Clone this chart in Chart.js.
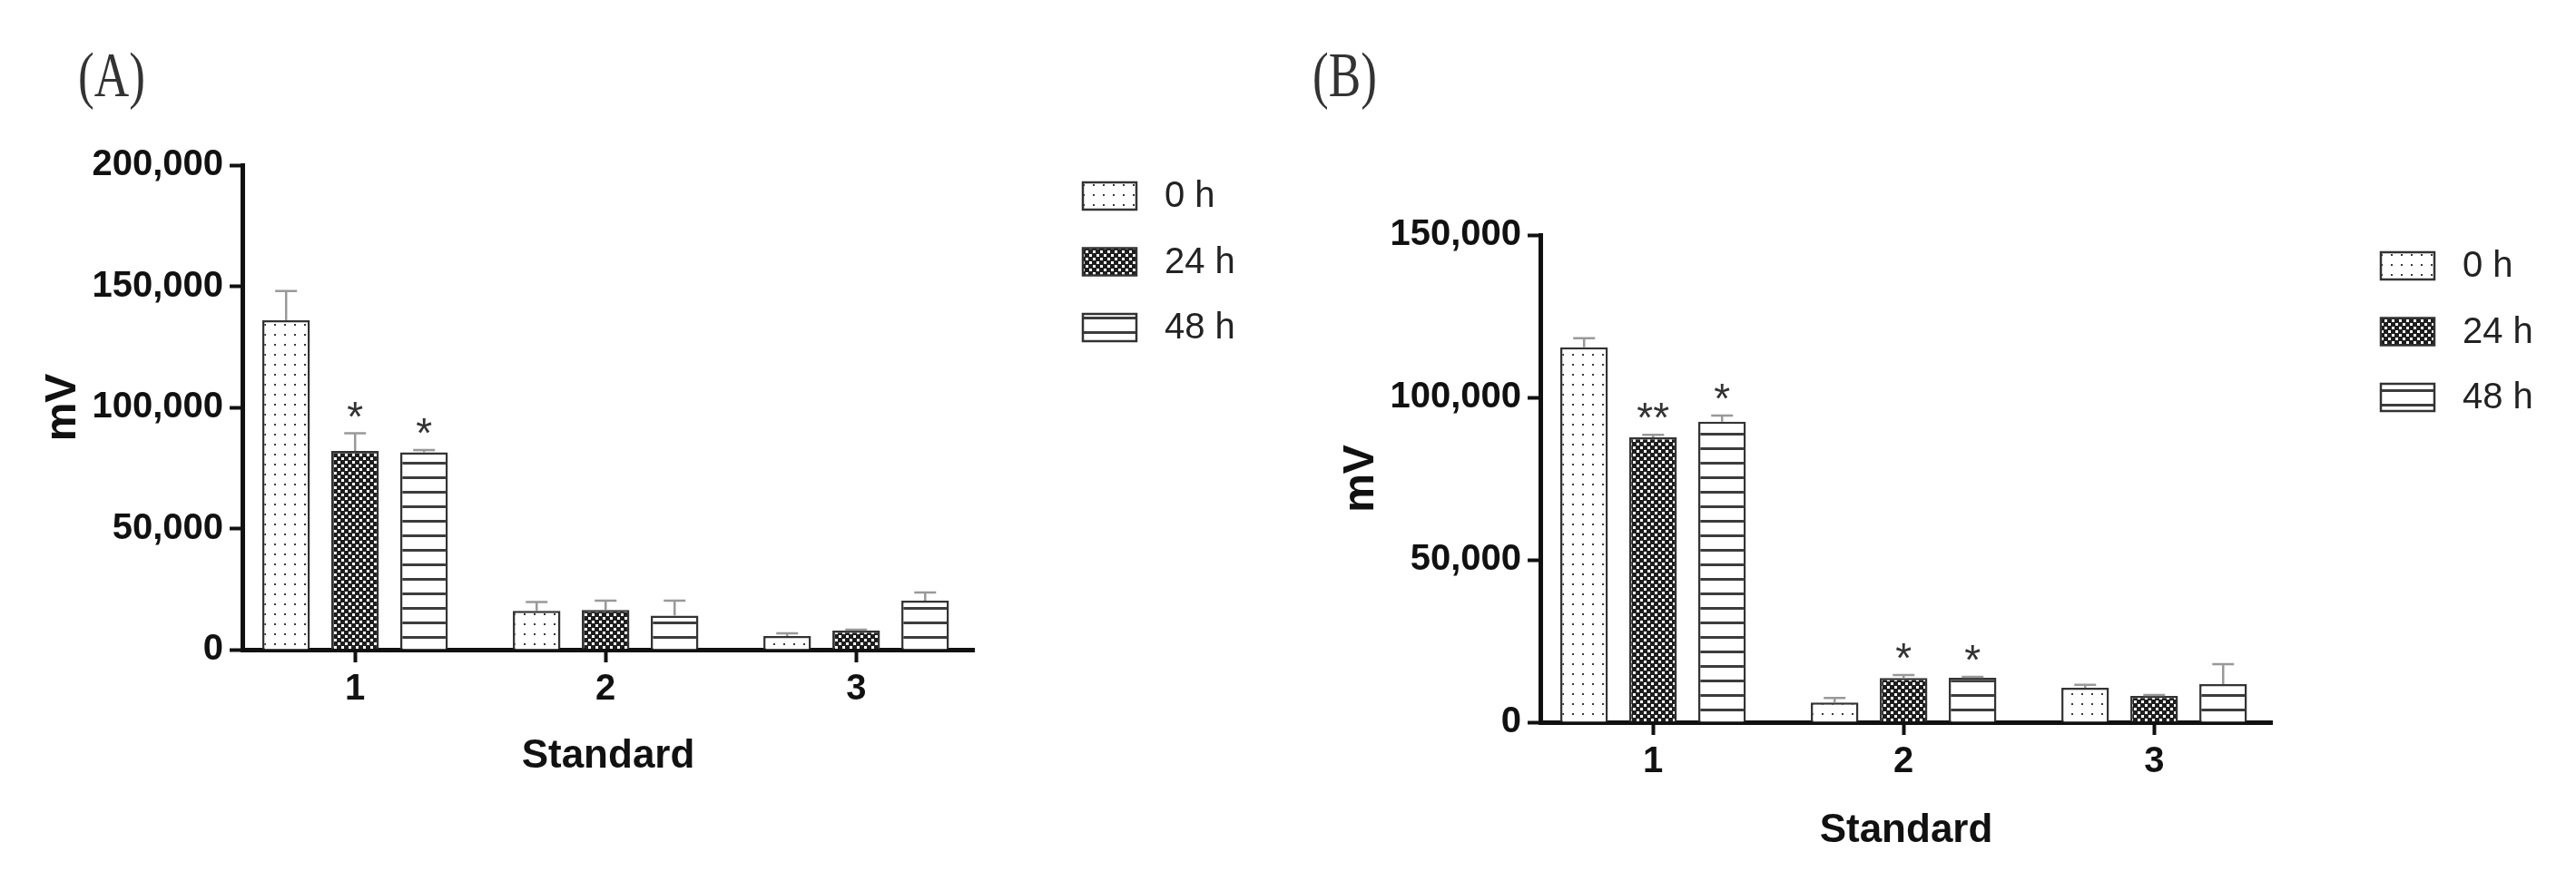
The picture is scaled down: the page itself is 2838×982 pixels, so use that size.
<!DOCTYPE html>
<html>
<head>
<meta charset="utf-8">
<script src="https://cdn.jsdelivr.net/npm/chart.js@4.4.0/dist/chart.umd.min.js"></script>
<style>
  html, body { margin: 0; padding: 0; background: #fff; }
  body { width: 2838px; height: 982px; position: relative; overflow: hidden; }
  .panel { position: absolute; top: 0; width: 1419px; height: 982px; }
  .tag { position: absolute; top: 48px; font-family: 'Liberation Serif', serif; font-size: 70px; line-height: 70px; color: #333; transform: scaleX(0.76); transform-origin: left top; }
</style>
</head>
<body>
<div class="panel" style="left:0"><canvas id="chartA" width="1419" height="982"></canvas></div>
<div class="panel" style="left:1419px"><canvas id="chartB" width="1419" height="982"></canvas></div>
<div class="tag" style="left:86px">(A)</div>
<div class="tag" style="left:1446px">(B)</div>
<script>
var categories = ['1', '2', '3'];
var seriesLabels = ['0 h', '24 h', '48 h'];

// panel A
var valuesA_0h = [136000, 16000, 5600];
var valuesA_24h = [82000, 16400, 7900];
var valuesA_48h = [81500, 14000, 20200];
var errorsA_0h = [12000, 3700, 1100];
var errorsA_24h = [7300, 3800, 300];
var errorsA_48h = [900, 6200, 3400];
var starsA_24h = ['*', '', ''];
var starsA_48h = ['*', '', ''];
var yTicksA = [0, 50000, 100000, 150000, 200000];

// panel B
var valuesB_0h = [115400, 6100, 10600];
var valuesB_24h = [87700, 13600, 8100];
var valuesB_48h = [92500, 13700, 11700];
var errorsB_0h = [2800, 1400, 900];
var errorsB_24h = [800, 900, 300];
var errorsB_48h = [1900, 300, 6200];
var starsB_24h = ['**', '*', ''];
var starsB_48h = ['*', '*', ''];
var yTicksB = [0, 50000, 100000, 150000];

var FONT = "'Liberation Sans', Arial, sans-serif";
Chart.defaults.font.family = FONT;

function makePattern(w, h, draw) {
    var c = document.createElement('canvas');
    c.width = w;
    c.height = h;
    var g = c.getContext('2d');
    draw(g);
    return g.createPattern(c, 'repeat');
}

var dots = makePattern(11, 11, function (g) {
    g.fillStyle = '#fff'; g.fillRect(0, 0, 11, 11);
    g.fillStyle = '#3a3a3a'; g.fillRect(5, 5, 2, 2);
});
var checks = makePattern(8, 8, function (g) {
    g.fillStyle = '#1e1e1e'; g.fillRect(0, 0, 8, 8);
    g.fillStyle = '#fff'; g.fillRect(0, 0, 3, 3); g.fillRect(4, 4, 3, 3);
});
var stripes = makePattern(16, 16, function (g) {
    g.fillStyle = '#fff'; g.fillRect(0, 0, 16, 16);
    g.fillStyle = '#3c3c3c'; g.fillRect(0, 13, 16, 3);
});
var fills = [dots, checks, stripes];

// upper error bars and significance stars
var errorBars = {
    id: 'errorBars',
    afterDatasetsDraw: function (chart) {
        var ctx = chart.ctx;
        var y = chart.scales.y;
        ctx.save();
        chart.data.datasets.forEach(function (ds, di) {
            chart.getDatasetMeta(di).data.forEach(function (bar, i) {
                var top = y.getPixelForValue(ds.data[i] + ds.errors[i]);
                ctx.strokeStyle = '#999';
                ctx.lineWidth = 2.5;
                ctx.beginPath();
                ctx.moveTo(bar.x, bar.y);
                ctx.lineTo(bar.x, top);
                ctx.moveTo(bar.x - 12, top);
                ctx.lineTo(bar.x + 12, top);
                ctx.stroke();
                if (ds.stars[i]) {
                    ctx.fillStyle = '#333';
                    ctx.font = '46px ' + FONT;
                    ctx.textAlign = 'center';
                    ctx.textBaseline = 'alphabetic';
                    ctx.fillText(ds.stars[i], bar.x, top - 29 + 0.57 * 46);
                }
            });
        });
        ctx.restore();
    }
};

var sideLegend = {
    id: 'sideLegend',
    afterDraw: function (chart) {
        var ctx = chart.ctx;
        var area = chart.chartArea;
        ctx.save();
        chart.data.datasets.forEach(function (ds, i) {
            var cy = area.top + 34 + i * 72.5;
            var x = area.left + 926;
            ctx.fillStyle = ds.backgroundColor;
            ctx.fillRect(x, cy - 15, 59, 30);
            ctx.lineWidth = 2.5;
            ctx.strokeStyle = '#333';
            ctx.strokeRect(x, cy - 15, 59, 30);
            ctx.fillStyle = '#222';
            ctx.font = '40px ' + FONT;
            ctx.textAlign = 'left';
            ctx.textBaseline = 'middle';
            ctx.fillText(ds.label, area.left + 1016, cy + 1);
        });
        ctx.restore();
    }
};

function buildChart(id, p) {
    var datasets = p.values.map(function (vals, i) {
        return {
            label: seriesLabels[i],
            data: vals,
            errors: p.errors[i],
            stars: p.stars[i],
            backgroundColor: fills[i],
            borderColor: '#333',
            borderWidth: 2.5
        };
    });
    return new Chart(document.getElementById(id), {
        type: 'bar',
        data: { labels: categories, datasets: datasets },
        plugins: [errorBars, sideLegend],
        options: {
            responsive: false,
            animation: false,
            categoryPercentage: 0.826,
            barPercentage: 0.69,
            layout: { padding: { left: 0, top: p.top, right: 1419 - p.right, bottom: 0 } },
            plugins: { legend: { display: false }, tooltip: { enabled: false } },
            scales: {
                x: {
                    type: 'linear',
                    min: 0.55,
                    max: 3.47,
                    offset: false,
                    z: 1,
                    afterBuildTicks: function (s) {
                        s.ticks = categories.map(function (c) { return { value: +c }; });
                    },
                    afterFit: function (s) { s.height = 982 - p.bottom; },
                    ticks: {
                        callback: function (v) { return String(v); },
                        font: { size: 40, weight: 'bold' },
                        color: '#111',
                        padding: 6,
                        maxRotation: 0,
                        autoSkip: false
                    },
                    grid: { offset: false, drawOnChartArea: false, tickLength: 14, tickWidth: 4, tickColor: '#111' },
                    border: { display: true, width: 5, color: '#111' },
                    title: {
                        display: true,
                        text: 'Standard',
                        color: '#111',
                        font: { size: 44, weight: 'bold' },
                        padding: { top: 0, bottom: p.xTitlePad }
                    }
                },
                y: {
                    min: 0,
                    max: p.yTicks[p.yTicks.length - 1],
                    z: 1,
                    afterBuildTicks: function (s) {
                        s.ticks = p.yTicks.map(function (v) { return { value: v }; });
                    },
                    afterFit: function (s) { s.width = p.left; },
                    ticks: {
                        callback: function (v) { return Number(v).toLocaleString('en-US'); },
                        font: { size: 40, weight: 'bold' },
                        color: '#111',
                        padding: 7
                    },
                    grid: { drawOnChartArea: false, tickLength: 14, tickWidth: 4, tickColor: '#111' },
                    border: { display: true, width: 5, color: '#111' },
                    title: {
                        display: true,
                        text: 'mV',
                        color: '#111',
                        font: { size: 48, weight: 'bold' },
                        padding: { top: p.yTitlePad, bottom: 0 }
                    }
                }
            }
        }
    });
}

buildChart('chartA', {
    values: [valuesA_0h, valuesA_24h, valuesA_48h],
    errors: [errorsA_0h, errorsA_24h, errorsA_48h],
    stars: [['', '', ''], starsA_24h, starsA_48h],
    yTicks: yTicksA,
    left: 267, right: 1073, top: 182, bottom: 716,
    yTitlePad: 41, xTitlePad: 121.6
});

buildChart('chartB', {
    values: [valuesB_0h, valuesB_24h, valuesB_48h],
    errors: [errorsB_0h, errorsB_24h, errorsB_48h],
    stars: [['', '', ''], starsB_24h, starsB_48h],
    yTicks: yTicksB,
    left: 278, right: 1084, top: 259, bottom: 796,
    yTitlePad: 52, xTitlePad: 39.6
});
</script>
</body>
</html>
